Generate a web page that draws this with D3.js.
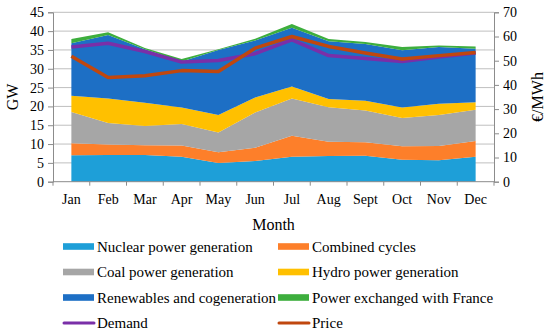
<!DOCTYPE html>
<html>
<head>
<meta charset="utf-8">
<script src="https://cdn.jsdelivr.net/npm/d3@7"></script>
<style>
  body { margin: 0; background: #fff; }
  text { font-family: "Liberation Serif", "Times New Roman", serif; fill: #000; }
</style>
</head>
<body>
<svg id="chart" width="550" height="336"></svg>
<script>
// data
var months = ["Jan", "Feb", "Mar", "Apr", "May", "Jun", "Jul", "Aug", "Sept", "Oct", "Nov", "Dec"];
var nuclear    = [7.0, 7.1, 7.1, 6.6, 5.0, 5.5, 6.6, 6.8, 6.9, 5.8, 5.7, 6.6];
var combined   = [3.2, 2.8, 2.6, 3.0, 2.8, 3.5, 5.6, 3.8, 3.6, 3.6, 3.8, 4.2];
var coal       = [8.3, 5.7, 5.1, 5.7, 5.3, 9.4, 9.9, 9.2, 8.4, 7.5, 8.2, 8.3];
var hydro      = [4.3, 6.5, 6.2, 4.4, 4.6, 4.0, 3.2, 2.2, 2.6, 2.8, 3.0, 2.0];
var renewables = [14.0, 16.9, 14.2, 12.2, 17.3, 15.1, 15.6, 15.3, 15.1, 15.2, 15.1, 14.2];
var france     = [1.1, 0.7, 0.3, 0.7, 0.2, 0.5, 1.0, 0.6, 0.5, 0.9, 0.4, 0.6];
var demand     = [35.8, 36.8, 34.6, 31.8, 32.2, 34.0, 37.7, 33.5, 32.7, 31.9, 33.1, 34.2];
var price      = [51.8, 43.1, 43.8, 45.9, 45.5, 55.2, 60.0, 55.9, 53.2, 50.7, 52.1, 53.4];
var gwTicks = [0, 5, 10, 15, 20, 25, 30, 35, 40, 45];
var priceTicks = [0, 10, 20, 30, 40, 50, 60, 70];

var areaNames = ["Nuclear power generation", "Combined cycles", "Coal power generation",
  "Hydro power generation", "Renewables and cogeneration", "Power exchanged with France"];
var areaColors = ["#1e9fd8", "#fd7f2a", "#a6a6a6", "#ffc000", "#1d6fc5", "#3dae3d"];
var lineNames = ["Demand", "Price"];
var lineColors = ["#7a2fa8", "#c0470e"];

var series = [nuclear, combined, coal, hydro, renewables, france];
var rows = months.map(function(m, i) {
  var o = { month: m };
  series.forEach(function(s, k) { o["s" + k] = s[i]; });
  return o;
});

var svg = d3.select("#chart");
var plotL = 53, plotR = 494, plotT = 12.3, plotB = 181.7;

var x = d3.scaleBand().domain(months).range([plotL, plotR]);
var xc = function(d) { return x(d) + x.bandwidth() / 2; };
var y = d3.scaleLinear().domain([0, 45]).range([plotB, plotT]);
var y2 = d3.scaleLinear().domain([0, 70]).range([plotB, plotT]);

// gridlines
svg.append("g").selectAll("line")
  .data(gwTicks.slice(1))
  .enter().append("line")
  .attr("x1", plotL).attr("x2", plotR)
  .attr("y1", function(d) { return y(d); })
  .attr("y2", function(d) { return y(d); })
  .attr("stroke", "#bfbfbf").attr("stroke-width", 1);

// stacked areas
var stack = d3.stack().keys(series.map(function(s, k) { return "s" + k; }));
var stacked = stack(rows);
var area = d3.area()
  .x(function(d) { return xc(d.data.month); })
  .y0(function(d) { return y(d[0]); })
  .y1(function(d) { return y(d[1]); });

svg.append("g").selectAll("path")
  .data(stacked)
  .enter().append("path")
  .attr("d", area)
  .attr("fill", function(d, i) { return areaColors[i]; });

// demand and price lines
var demandLine = d3.line()
  .x(function(d, i) { return xc(months[i]); })
  .y(function(d) { return y(d); });
var priceLine = d3.line()
  .x(function(d, i) { return xc(months[i]); })
  .y(function(d) { return y2(d); });

svg.append("path").attr("d", demandLine(demand))
  .attr("fill", "none").attr("stroke", lineColors[0]).attr("stroke-width", 3.5)
  .attr("stroke-linejoin", "round");
svg.append("path").attr("d", priceLine(price))
  .attr("fill", "none").attr("stroke", lineColors[1]).attr("stroke-width", 3.5)
  .attr("stroke-linejoin", "round");

// axes
var axisColor = "#8c8c8c";
var yAxis = d3.axisLeft(y).tickValues(gwTicks).tickSize(5).tickPadding(4);
var gy = svg.append("g").attr("transform", "translate(" + plotL + ",0)").call(yAxis);

var y2Axis = d3.axisRight(y2).tickValues(priceTicks).tickSize(5).tickPadding(4);
var gy2 = svg.append("g").attr("transform", "translate(" + plotR + ",0)").call(y2Axis);

var xAxis = d3.axisBottom(x).tickSize(0).tickPadding(12);
var gx = svg.append("g").attr("transform", "translate(0," + plotB + ")").call(xAxis);
// tick marks at band boundaries
gx.selectAll(".bound")
  .data(months.concat(["end"]))
  .enter().append("line")
  .attr("class", "bound")
  .attr("x1", function(d, i) { return plotL + i * x.step(); })
  .attr("x2", function(d, i) { return plotL + i * x.step(); })
  .attr("y1", 0).attr("y2", 4)
  .attr("stroke", axisColor);

[gy, gy2, gx].forEach(function(g) {
  g.selectAll("path.domain").attr("stroke", axisColor);
  g.selectAll(".tick line").attr("stroke", axisColor);
  g.selectAll("text")
    .style("font-family", "'Liberation Serif', 'Times New Roman', serif")
    .style("font-size", "14px").attr("fill", "#000");
});
gx.select("path.domain").attr("d", "M" + plotL + ",0H" + plotR);

// axis titles
svg.append("text").attr("transform", "translate(18,97) rotate(-90)")
  .attr("text-anchor", "middle").style("font-size", "16px").text("GW");
svg.append("text").attr("transform", "translate(543,97) rotate(-90)")
  .attr("text-anchor", "middle").style("font-size", "16px").text("€/MWh");
svg.append("text").attr("x", (plotL + plotR) / 2).attr("y", 230)
  .attr("text-anchor", "middle").style("font-size", "16px").text("Month");

// legend
var legendItems = areaNames.map(function(n, i) { return { name: n, color: areaColors[i], type: "area" }; })
  .concat(lineNames.map(function(n, i) { return { name: n, color: lineColors[i], type: "line" }; }));
var legend = svg.append("g");
var item = legend.selectAll("g")
  .data(legendItems)
  .enter().append("g")
  .attr("transform", function(d, i) {
    var col = i % 2, row = Math.floor(i / 2);
    return "translate(" + (col === 0 ? 63 : 278) + "," + (246.5 + row * 25.5) + ")";
  });
item.filter(function(d) { return d.type === "area"; })
  .append("rect")
  .attr("x", 0).attr("y", -3.3).attr("width", 31).attr("height", 6.6)
  .attr("fill", function(d) { return d.color; });
item.filter(function(d) { return d.type === "line"; })
  .append("line")
  .attr("x1", 1).attr("x2", 31).attr("y1", 0).attr("y2", 0)
  .attr("stroke", function(d) { return d.color; })
  .attr("stroke-width", 3).attr("stroke-linecap", "round");
item.append("text")
  .attr("x", 34).attr("y", 0).attr("dy", "0.35em")
  .style("font-size", "15px")
  .text(function(d) { return d.name; });
</script>
</body>
</html>
